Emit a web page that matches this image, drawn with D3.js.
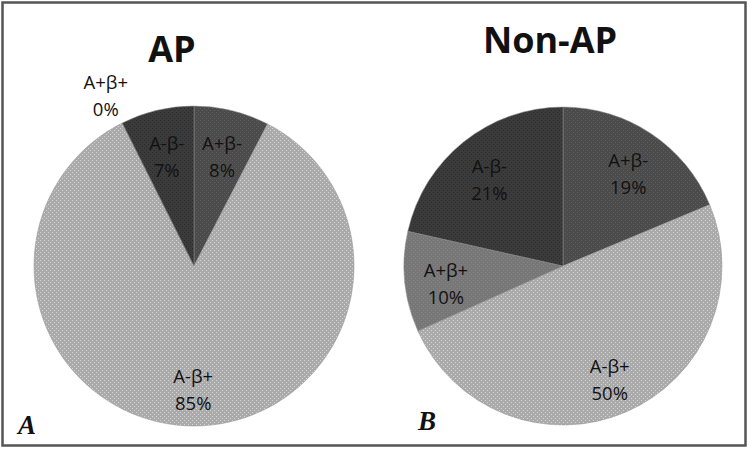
<!DOCTYPE html>
<html><head><meta charset="utf-8">
<script src="https://cdn.jsdelivr.net/npm/d3@7"></script>
<style>body{margin:0;background:#fff}svg{display:block}</style>
</head><body>
<svg id="c" width="749" height="449"></svg>
<script>
const categories = ["A+β-", "A-β+", "A+β+", "A-β-"];
const apValues = [7.6, 85.0, 0.0, 7.4];
const nonApValues = [18.7, 49.6, 10.2, 21.5];
const apLabels = ["8%", "85%", "0%", "7%"];
const nonApLabels = ["19%", "50%", "10%", "21%"];
const titles = ["AP", "Non-AP"];
const panelLetters = ["A", "B"];

const svg = d3.select("#c");

const fills = {
  "A+β-": {base: "#4b4b4b", dot: "#606060"},
  "A-β+": {base: "#aaaaaa", dot: "#d6d6d6"},
  "A+β+": {base: "#777777", dot: "#878787"},
  "A-β-": {base: "#3b3b3b", dot: "#2a2a2a"}
};
const defs = svg.append("defs");
categories.forEach((c, i) => {
  const p = defs.append("pattern").attr("id", "pat" + i)
    .attr("patternUnits", "userSpaceOnUse").attr("width", 4).attr("height", 4);
  p.append("rect").attr("width", 4).attr("height", 4).attr("fill", fills[c].base);
  p.append("rect").attr("x", 0).attr("y", 0).attr("width", 1).attr("height", 1).attr("fill", fills[c].dot);
  p.append("rect").attr("x", 2).attr("y", 2).attr("width", 1).attr("height", 1).attr("fill", fills[c].dot);
});
const color = d3.scaleOrdinal().domain(categories).range(categories.map((c, i) => `url(#pat${i})`));

svg.append("rect").attr("x", 2.5).attr("y", 2.5).attr("width", 743).attr("height", 443)
  .attr("fill", "none").attr("stroke", "#555").attr("stroke-width", 2.5);

const panels = [
  {cx: 194, cy: 266, r: 160, values: apValues, labels: apLabels, title: titles[0], letter: panelLetters[0], tx: 172, ty: 62, lx: 18, ly: 434},
  {cx: 563, cy: 266, r: 159, values: nonApValues, labels: nonApLabels, title: titles[1], letter: panelLetters[1], tx: 550, ty: 53, lx: 418, ly: 430}
];

const pie = d3.pie().sort(null).value(d => d.v);

panels.forEach(P => {
  const g = svg.append("g").attr("transform", `translate(${P.cx},${P.cy})`);
  const data = categories.map((c, i) => ({c, v: P.values[i], lab: P.labels[i]}));
  const arcs = pie(data);
  const arc = d3.arc().innerRadius(0).outerRadius(P.r);
  g.selectAll("path").data(arcs).join("path")
    .attr("d", arc).attr("fill", d => color(d.data.c))
    .attr("stroke", "#8f8f8f").attr("stroke-width", 0.5);

  const inArc = d3.arc().innerRadius(P.r * 0.74).outerRadius(P.r * 0.74);
  const outArc = d3.arc().innerRadius(P.r * 1.23).outerRadius(P.r * 1.23);
  arcs.forEach(d => {
    const [x, y] = (d.data.v === 0 ? outArc : inArc).centroid(d);
    const t = g.append("text").attr("text-anchor", "middle")
      .attr("font-family", "'Open Sans', sans-serif").attr("font-size", 18.5)
      .attr("fill", "#111");
    t.append("tspan").attr("x", x).attr("y", y - 1).text(d.data.c);
    t.append("tspan").attr("x", x).attr("y", y + 26).text(d.data.lab);
  });

  svg.append("text").attr("x", P.tx).attr("y", P.ty).attr("text-anchor", "middle")
    .attr("font-family", "'Open Sans', sans-serif").attr("font-weight", "bold")
    .attr("font-size", 36).attr("fill", "#111").text(P.title);
  svg.append("text").attr("x", P.lx).attr("y", P.ly)
    .attr("font-family", "'Liberation Serif', 'Times New Roman', serif").attr("font-weight", "bold")
    .attr("font-style", "italic").attr("font-size", 27).attr("fill", "#111").text(P.letter);
});
</script>
</body></html>
